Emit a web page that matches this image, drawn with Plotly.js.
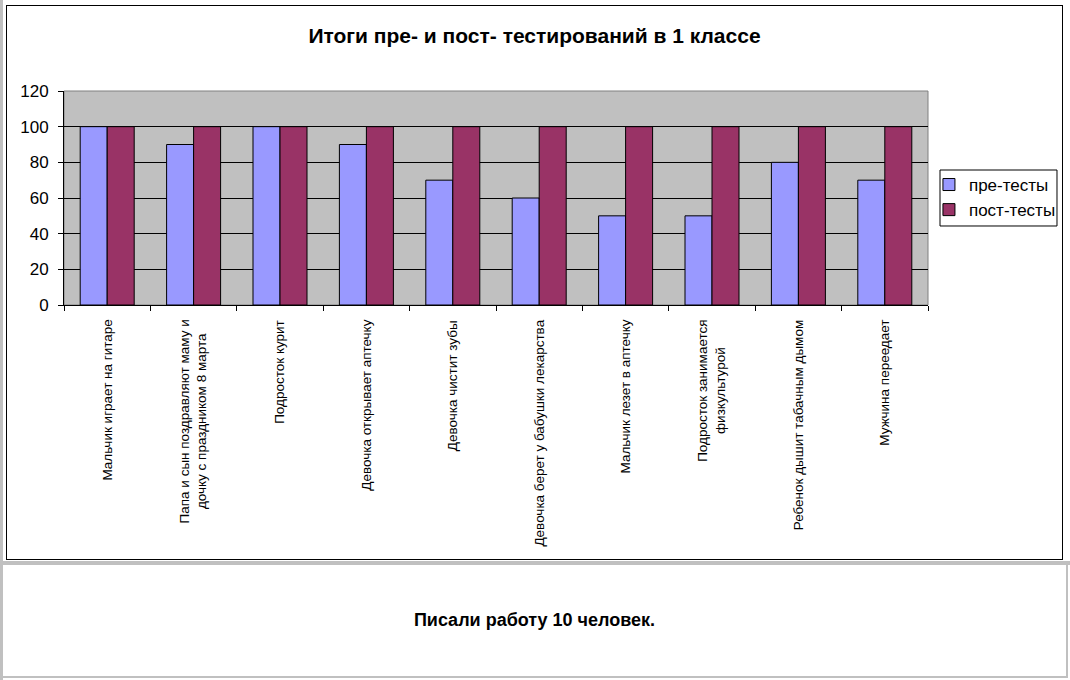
<!DOCTYPE html>
<html>
<head>
<meta charset="utf-8">
<script src="https://cdn.plot.ly/plotly-3.0.1.min.js"></script>
<style>
  body { margin: 0; background: #fff; width: 1070px; height: 680px; position: relative; overflow: hidden; }
  #frame { position: absolute; left: 6px; top: 5px; width: 1055px; height: 553px; border: 1px solid #000; background: #fff; }
  #strip { position: absolute; left: 0; top: 561px; width: 1070px; height: 4px; background: #c0c0c0; }
  #leftstrip { position: absolute; left: 0; top: 0; width: 3px; height: 680px; background: #c0c0c0; }
  #note { position: absolute; left: 3px; top: 565px; width: 1063px; height: 111px; background: #fff;
          border-bottom: 2px solid #c0c0c0; border-right: 2px solid #c0c0c0;
          font: bold 18px "Liberation Sans", Arial, sans-serif; text-align: center; line-height: 111px; }
</style>
</head>
<body>
<div id="leftstrip"></div>
<div id="frame"><div id="chart"></div></div>
<div id="strip"></div>
<div id="note">Писали работу 10 человек.</div>
<script>
let categories = [
  'Мальчик играет на гитаре',
  'Папа и сын поздравляют маму и дочку с праздником 8 марта',
  'Подросток курит',
  'Девочка открывает аптечку',
  'Девочка чистит зубы',
  'Девочка берет у бабушки лекарства',
  'Мальчик лезет в аптечку',
  'Подросток занимается физкультурой',
  'Ребенок дышит табачным дымом',
  'Мужчина переедает'
]
let tick_labels = [
  'Мальчик играет на гитаре',
  'Папа и сын поздравляют маму и<br>дочку с праздником 8 марта',
  'Подросток курит',
  'Девочка открывает аптечку',
  'Девочка чистит зубы',
  'Девочка берет у бабушки лекарства',
  'Мальчик лезет в аптечку',
  'Подросток занимается<br>физкультурой',
  'Ребенок дышит табачным дымом',
  'Мужчина переедает'
]
let pre_tests = [100, 90, 100, 90, 70, 60, 50, 50, 80, 70]
let post_tests = [100, 100, 100, 100, 100, 100, 100, 100, 100, 100]
let y_ticks = [0, 20, 40, 60, 80, 100, 120]

let font_family = '"Liberation Sans", Arial, sans-serif'

// bars --------------
var trace1 = {
  x: categories,
  y: pre_tests,
  name: 'пре-тесты',
  type: 'bar',
  marker: {color: '#9999ff', line: {color: '#000', width: 1}},
  hoverinfo: 'none'
};
var trace2 = {
  x: categories,
  y: post_tests,
  name: 'пост-тесты',
  type: 'bar',
  marker: {color: '#993366', line: {color: '#000', width: 1}},
  hoverinfo: 'none'
};

// rotated category labels, centred under each group
let label_notes = []
for (let i = 0; i < categories.length; i++) {
  label_notes.push({
    x: categories[i], xref: 'x',
    y: -0.06, yref: 'paper',
    yanchor: 'top', xanchor: 'center',
    text: tick_labels[i],
    textangle: -90,
    align: 'center',
    showarrow: false,
    font: {family: font_family, size: 13.5, color: '#000'}
  })
}

var layout = {
  width: 1055,
  height: 553,
  margin: {l: 57, r: 134, t: 85, b: 254, autoexpand: false},
  paper_bgcolor: '#fff',
  plot_bgcolor: '#c0c0c0',
  font: {family: font_family, color: '#000'},
  title: {
    text: '<b>Итоги пре- и пост- тестирований в 1 классе</b>',
    font: {size: 21, family: font_family},
    x: 0.5, y: 0.946, xanchor: 'center', yanchor: 'middle'
  },
  barmode: 'group',
  bargap: 0.375,
  bargroupgap: 0,
  xaxis: {
    type: 'category',
    showticklabels: false,
    ticks: 'outside',
    tickson: 'boundaries',
    ticklen: 5,
    tickcolor: '#000',
    showline: true,
    linecolor: '#000',
    linewidth: 1,
    showgrid: false,
    fixedrange: true
  },
  yaxis: {
    range: [0, 120],
    tickvals: y_ticks,
    ticks: 'outside',
    ticklen: 5,
    tickcolor: '#000',
    ticklabelstandoff: 6,
    tickfont: {size: 17},
    showline: true,
    linecolor: '#000',
    linewidth: 1,
    gridcolor: '#000',
    gridwidth: 1,
    zeroline: false,
    fixedrange: true
  },
  // legend box is drawn as a shape so the entries can sit tighter inside it
  legend: {
    x: 1.0011, xanchor: 'left',
    y: 0.645, yanchor: 'top',
    bgcolor: 'rgba(0,0,0,0)',
    borderwidth: 0,
    font: {size: 17},
    traceorder: 'normal'
  },
  shapes: [{
    type: 'rect', xref: 'paper', yref: 'paper',
    x0: 0, x1: 1, y0: 0, y1: 1,
    line: {color: '#808080', width: 1},
    fillcolor: 'rgba(0,0,0,0)',
    layer: 'between'
  }, {
    type: 'rect', xref: 'paper', yref: 'paper',
    x0: 1.0139, x1: 1.1493, y0: 0.3692, y1: 0.6308,
    line: {color: '#000', width: 1},
    fillcolor: '#fff',
    layer: 'above'
  }],
  annotations: label_notes
};

Plotly.newPlot('chart', [trace1, trace2], layout, {displayModeBar: false, staticPlot: true});
</script>
</body>
</html>
